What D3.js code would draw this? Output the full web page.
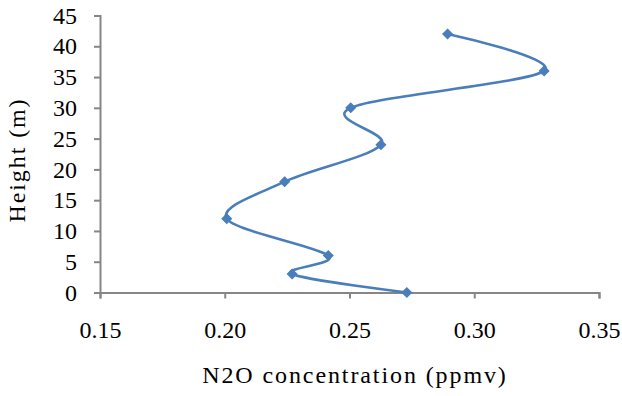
<!DOCTYPE html>
<html>
<head>
<meta charset="utf-8">
<script src="https://cdn.jsdelivr.net/npm/d3@7"></script>
<style>
  html, body { margin: 0; padding: 0; background: #fff; }
  svg { display: block; }
</style>
</head>
<body>
<svg id="chart" width="622" height="396"></svg>
<script>
// N2O concentration profile by height
const heights = [0, 3, 6, 12, 18, 24, 30, 36, 42];
const n2o = [0.273, 0.227, 0.2415, 0.2008, 0.224, 0.2626, 0.2505, 0.328, 0.2893];
const xTicks = [0.15, 0.20, 0.25, 0.30, 0.35];
const yTicks = [0, 5, 10, 15, 20, 25, 30, 35, 40, 45];

const serif = "'Liberation Serif', 'Times New Roman', 'DejaVu Serif', serif";

const svg = d3.select("#chart");
const plot = { left: 100, right: 599, top: 15.5, bottom: 292.5 };

const x = d3.scaleLinear().domain([0.15, 0.35]).range([plot.left, plot.right]);
const y = d3.scaleLinear().domain([0, 45]).range([plot.bottom, plot.top]);

const axisColor = "#868686";

const xAxis = svg.append("g")
  .attr("transform", `translate(0,${plot.bottom})`)
  .call(d3.axisBottom(x).tickValues(xTicks).tickFormat(d3.format(".2f")).tickSize(6).tickPadding(22));
const yAxis = svg.append("g")
  .attr("transform", `translate(${plot.left},0)`)
  .call(d3.axisLeft(y).tickValues(yTicks).tickFormat(d3.format("d")).tickSize(6).tickPadding(17));

[xAxis, yAxis].forEach(g => {
  g.attr("font-family", null).attr("font-size", null);
  g.selectAll("path.domain").attr("stroke", axisColor).attr("stroke-width", 2);
  g.selectAll(".tick line").attr("stroke", axisColor).attr("stroke-width", 2);
  g.selectAll(".tick text")
    .style("font-family", serif)
    .style("font-size", "24px")
    .attr("fill", "#000");
});

const pts = heights.map((h, i) => ({ h, v: n2o[i] }));

const line = d3.line()
  .x(d => x(d.v))
  .y(d => y(d.h))
  .curve(d3.curveCardinal.tension(0));

svg.append("path")
  .datum(pts)
  .attr("d", line)
  .attr("fill", "none")
  .attr("stroke", "#4a7ebb")
  .attr("stroke-width", 2.6);

svg.append("g").selectAll("path")
  .data(pts)
  .join("path")
  .attr("d", d3.symbol(d3.symbolDiamond2, 56))
  .attr("transform", d => `translate(${x(d.v)},${y(d.h)})`)
  .attr("fill", "#4a7ebb")
  .attr("stroke", "#4a7ebb")
  .attr("stroke-width", 1.2);

svg.append("text")
  .attr("x", 355)
  .attr("y", 383)
  .attr("text-anchor", "middle")
  .style("font-family", serif)
  .style("font-size", "24px")
  .style("letter-spacing", "1.9px")
  .text("N2O concentration (ppmv)");

svg.append("text")
  .attr("transform", `translate(25,160) rotate(-90)`)
  .attr("text-anchor", "middle")
  .style("font-family", serif)
  .style("font-size", "24px")
  .style("letter-spacing", "1.9px")
  .text("Height (m)");
</script>
</body>
</html>
